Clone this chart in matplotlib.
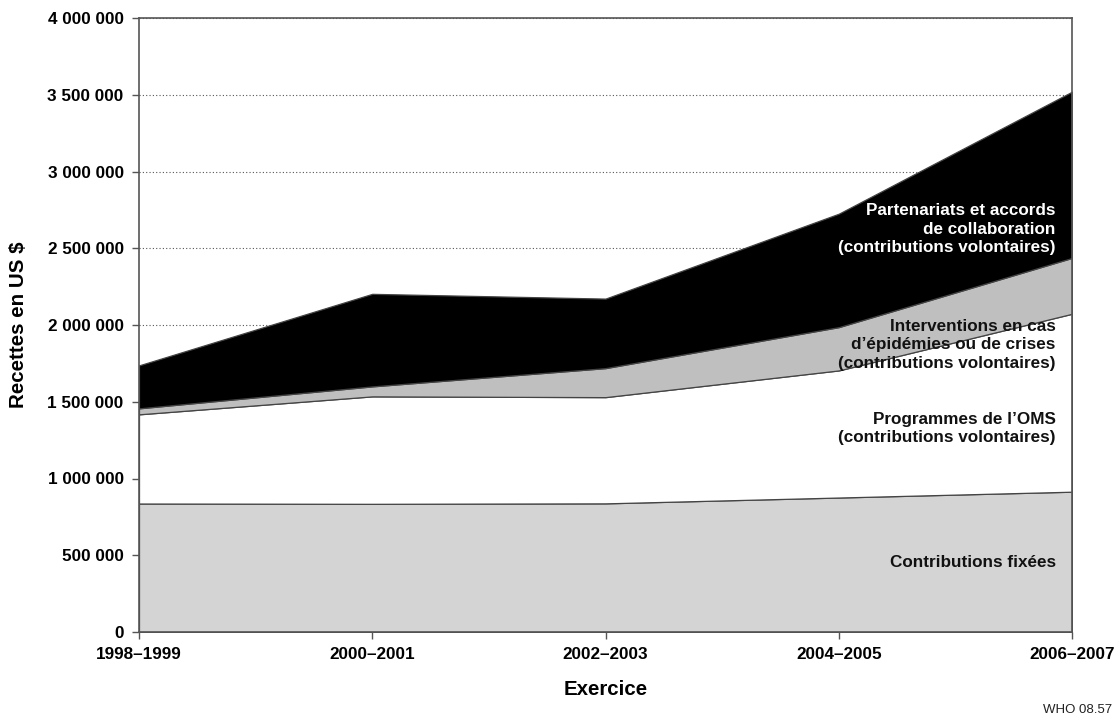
import matplotlib
matplotlib.use("Agg")
import matplotlib.pyplot as plt
import numpy as np

periods = ["1998–1999", "2000–2001", "2002–2003", "2004–2005", "2006–2007"]
contributions_fixees = [837000, 835000, 838000, 876000, 914000]
programmes_oms = [581000, 700000, 692000, 828000, 1159000]
interventions = [39000, 65000, 189000, 282000, 364000]
partenariats = [280000, 603000, 453000, 739000, 1083000]

yticks = [0, 500000, 1000000, 1500000, 2000000, 2500000, 3000000, 3500000, 4000000]

plt.rcParams['font.family'] = ['Liberation Sans', 'DejaVu Sans']

fig = plt.figure(figsize=(11.18, 7.2), dpi=100)
ax = fig.add_axes([139/1118, 1 - 632/720, (1072 - 139)/1118, (632 - 18)/720])

x = np.arange(len(periods))
ax.stackplot(x, contributions_fixees, programmes_oms, interventions, partenariats,
             colors=['#d4d4d4', '#ffffff', '#bfbfbf', '#000000'],
             edgecolor='#444444', linewidth=0.9, zorder=2)

ax.set_xlim(0, len(periods) - 1)
ax.set_ylim(0, 4000000)
ax.set_xticks(x)
ax.set_xticklabels(periods, fontsize=12.3, fontweight='bold')
ax.set_yticks(yticks)
ax.set_yticklabels([f"{v:,}".replace(",", " ") for v in yticks], fontsize=12.3, fontweight='bold')
ax.yaxis.grid(True, linestyle=(0, (1, 2)), color='#555555', linewidth=0.8, zorder=0)
ax.set_axisbelow(True)
ax.tick_params(axis='both', direction='out', length=5, width=1, color='#555555')
ax.tick_params(axis='x', pad=6)
ax.tick_params(axis='y', pad=6)
for s in ax.spines.values():
    s.set_color('#555555')
    s.set_linewidth(1.2)
    s.set_zorder(5)

ax.set_xlabel("Exercice", fontsize=14.8, fontweight='bold', labelpad=13)
ax.set_ylabel("Recettes en US $", fontsize=14.8, fontweight='bold', labelpad=14)

tx = 3.93
ax.text(tx, 2625000, "Partenariats et accords\nde collaboration\n(contributions volontaires)",
        ha='right', va='center', color='white', fontsize=12.3, fontweight='bold',
        linespacing=1.3, zorder=6)
ax.text(tx, 1870000, "Interventions en cas\nd’épidémies ou de crises\n(contributions volontaires)",
        ha='right', va='center', color='#111111', fontsize=12.3, fontweight='bold',
        linespacing=1.3, zorder=6)
ax.text(tx, 1326000, "Programmes de l’OMS\n(contributions volontaires)",
        ha='right', va='center', color='#111111', fontsize=12.3, fontweight='bold',
        linespacing=1.3, zorder=6)
ax.text(tx, 456000, "Contributions fixées",
        ha='right', va='center', color='#111111', fontsize=12.3, fontweight='bold', zorder=6)

fig.text(1112/1118, 1 - 710/720, "WHO 08.57", ha='right', va='center', fontsize=9.5, color='#222222')

fig.savefig("out.png", dpi=100)
